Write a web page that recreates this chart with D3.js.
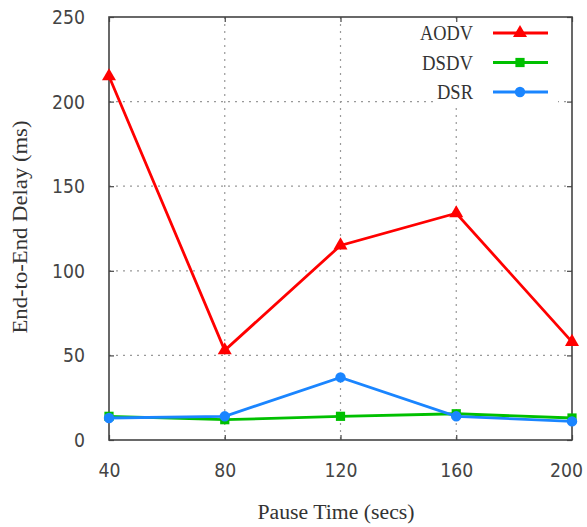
<!DOCTYPE html>
<html>
<head>
<meta charset="utf-8">
<script src="https://cdn.jsdelivr.net/npm/d3@7"></script>
<style>
  body { margin: 0; background: #fff; }
</style>
</head>
<body>
<script>
// pause time on x, delay (ms) on y
var pauseTimes = [40, 80, 120, 160, 200];
var aodv = [215, 53, 115, 134, 58];
var dsdv = [14, 12, 14, 15.5, 13];
var dsr = [13, 14, 37, 14, 11];
var yTicks = [0, 50, 100, 150, 200, 250];

var series = [
  { name: "AODV", values: aodv, color: "#ff0000", symbol: d3.symbolTriangle, w: 53 },
  { name: "DSDV", values: dsdv, color: "#00c000", symbol: d3.symbolSquare, w: 51 },
  { name: "DSR", values: dsr, color: "#1a85ff", symbol: d3.symbolCircle, w: 36 }
];

var width = 587, height = 527;
var margin = { top: 17, right: 15, bottom: 87, left: 109 };

var svg = d3.select("body").append("svg")
  .attr("width", width)
  .attr("height", height);

var x = d3.scaleLinear().domain([40, 200]).range([margin.left, width - margin.right]);
var y = d3.scaleLinear().domain([0, 250]).range([height - margin.bottom, margin.top]);

var tickFont = "'DejaVu Sans', sans-serif";
var serifFont = "'Liberation Serif', 'DejaVu Serif', serif";

// grid
svg.append("g").selectAll("line.vg")
  .data(pauseTimes.slice(1, -1))
  .enter().append("line")
  .attr("x1", function(d) { return x(d); })
  .attr("x2", function(d) { return x(d); })
  .attr("y1", y(250)).attr("y2", y(0))
  .attr("stroke", "#999").attr("stroke-width", 1.2)
  .attr("stroke-dasharray", "2,5");

svg.append("g").selectAll("line.hg")
  .data(yTicks.slice(1, -1))
  .enter().append("line")
  .attr("x1", x(40)).attr("x2", x(200))
  .attr("y1", function(d) { return y(d); })
  .attr("y2", function(d) { return y(d); })
  .attr("stroke", "#999").attr("stroke-width", 1.2)
  .attr("stroke-dasharray", "2,5");

// legend background hides grid beneath
svg.append("rect")
  .attr("x", 435).attr("y", 19)
  .attr("width", 123).attr("height", 86)
  .attr("fill", "#fff");

// axes (ticks inward, mirrored)
var xAxis = svg.append("g")
  .attr("transform", "translate(0," + y(0) + ")")
  .call(d3.axisBottom(x).tickValues(pauseTimes).tickSize(-5).tickPadding(23));
var xTop = svg.append("g")
  .attr("transform", "translate(0," + y(250) + ")")
  .call(d3.axisTop(x).tickValues(pauseTimes).tickSize(-5).tickFormat(""));
var yAxis = svg.append("g")
  .attr("transform", "translate(" + x(40) + ",0)")
  .call(d3.axisLeft(y).tickValues(yTicks).tickSize(-5).tickPadding(24));
var yRight = svg.append("g")
  .attr("transform", "translate(" + x(200) + ",0)")
  .call(d3.axisRight(y).tickValues(yTicks).tickSize(-5).tickFormat(""));

[xAxis, xTop, yAxis, yRight].forEach(function(g) {
  g.select(".domain").remove();
  g.selectAll("line").attr("stroke", "#444").attr("stroke-width", 1.2);
  g.selectAll("text")
    .attr("fill", "#444")
    .style("font-family", tickFont)
    .style("font-size", "20px")
    .attr("lengthAdjust", "spacingAndGlyphs")
    .attr("textLength", function() { return this.textContent.length * 11; });
});

// last x label sits against the page edge
xAxis.selectAll(".tick text")
  .filter(function(d) { return d === 200; })
  .attr("dx", -6);

// frame
svg.append("rect")
  .attr("x", x(40)).attr("y", y(250))
  .attr("width", x(200) - x(40)).attr("height", y(0) - y(250))
  .attr("fill", "none").attr("stroke", "#444").attr("stroke-width", 1.6);

// series
var line = d3.line()
  .x(function(d, i) { return x(pauseTimes[i]); })
  .y(function(d) { return y(d); });

series.forEach(function(s) {
  svg.append("path")
    .datum(s.values)
    .attr("d", line)
    .attr("fill", "none")
    .attr("stroke", s.color)
    .attr("stroke-width", 2.8);

  svg.append("g").selectAll("path")
    .data(s.values)
    .enter().append("path")
    .attr("transform", function(d, i) {
      return "translate(" + x(pauseTimes[i]) + "," + y(d) + ")";
    })
    .attr("d", d3.symbol().type(s.symbol).size(85))
    .attr("fill", s.color);
});

// legend
var legend = svg.append("g");
series.forEach(function(s, i) {
  var ly = 33 + i * 29.5;
  legend.append("text")
    .attr("x", 473).attr("y", ly)
    .attr("dy", "0.35em")
    .attr("text-anchor", "end")
    .attr("fill", "#333")
    .style("font-family", serifFont)
    .style("font-size", "21px")
    .attr("lengthAdjust", "spacingAndGlyphs")
    .attr("textLength", s.w)
    .text(s.name);
  legend.append("line")
    .attr("x1", 493).attr("x2", 548)
    .attr("y1", ly).attr("y2", ly)
    .attr("stroke", s.color).attr("stroke-width", 2.8);
  legend.append("path")
    .attr("transform", "translate(520," + ly + ")")
    .attr("d", d3.symbol().type(s.symbol).size(85))
    .attr("fill", s.color);
});

// axis titles
svg.append("text")
  .attr("x", 336).attr("y", 519)
  .attr("text-anchor", "middle")
  .attr("fill", "#333")
  .style("font-family", serifFont)
  .style("font-size", "20px")
  .attr("lengthAdjust", "spacingAndGlyphs")
  .attr("textLength", 157)
  .text("Pause Time (secs)");

svg.append("text")
  .attr("transform", "translate(27,227) rotate(-90)")
  .attr("text-anchor", "middle")
  .attr("fill", "#333")
  .style("font-family", serifFont)
  .style("font-size", "20px")
  .attr("lengthAdjust", "spacingAndGlyphs")
  .attr("textLength", 213)
  .text("End-to-End Delay (ms)");
</script>
</body>
</html>
